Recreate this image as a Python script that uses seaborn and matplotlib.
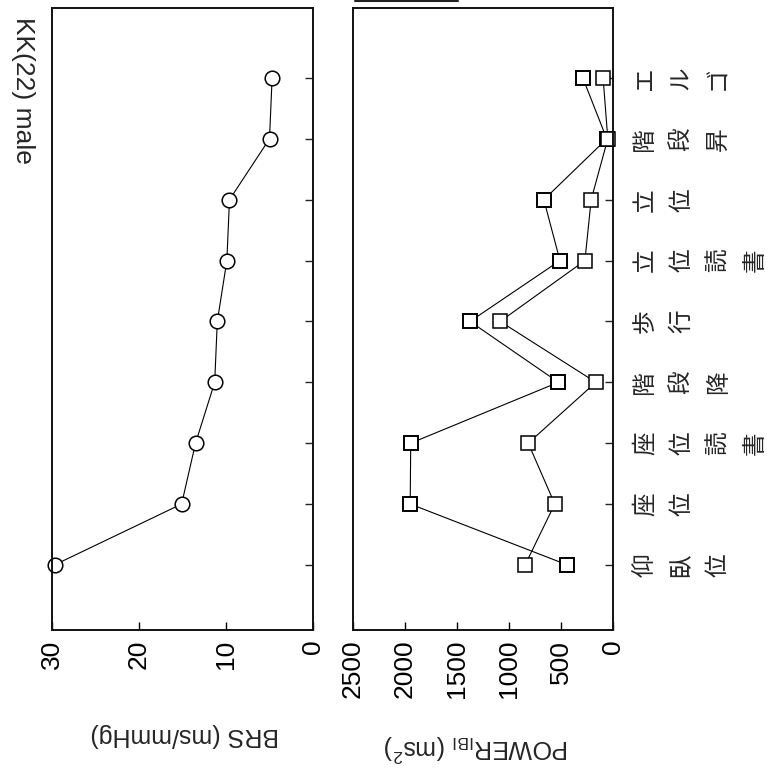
import matplotlib
matplotlib.use("Agg")
import matplotlib.pyplot as plt
import seaborn as sns
import pandas as pd
from matplotlib.lines import Line2D

# Conditions (postures / activities), bottom to top
categories = ["仰臥位", "座位", "座位読書", "階段降", "歩行",
              "立位読書", "立位", "階段昇", "エルゴ"]
# Baroreflex sensitivity (ms/mmHg)
brs = [29.7, 15.1, 13.5, 11.3, 11.0, 9.9, 9.6, 5.0, 4.7]
# IBI power (ms^2), two spectral components
power_1 = [440, 1950, 1945, 525, 1375, 510, 665, 60, 290]
power_2 = [845, 560, 815, 165, 1085, 270, 210, 50, 95]

brs_ticks = [30, 20, 10, 0]
power_ticks = [2500, 2000, 1500, 1000, 500, 0]

sns.set_style("white")
plt.rcParams["font.family"] = ["Liberation Sans", "Noto Sans CJK JP", "DejaVu Sans"]
plt.rcParams["mathtext.fontset"] = "custom"
plt.rcParams["mathtext.rm"] = "Liberation Sans"
plt.rcParams["mathtext.it"] = "Liberation Sans:italic"

pos = list(range(len(categories)))
df = pd.DataFrame({"cond": categories, "pos": pos, "brs": brs,
                   "p1": power_1, "p2": power_2})

W, H = 776, 773
fig = plt.figure(figsize=(W / 100, H / 100), dpi=100)
bottom = (H - 630) / H
height = 622 / H
ax1 = fig.add_axes([52 / W, bottom, 261 / W, height])
ax2 = fig.add_axes([353 / W, bottom, 260 / W, height])

line_kw = dict(sort=False, estimator=None, color="black", linewidth=0.8,
               markerfacecolor="white", markeredgecolor="black", clip_on=False)

sns.lineplot(data=df, x="brs", y="pos", ax=ax1, marker="o", markersize=10.5,
             markeredgewidth=1.1, **line_kw)
sns.lineplot(data=df, x="p1", y="pos", ax=ax2, marker="s", markersize=9.5,
             markeredgewidth=1.4, **line_kw)
sns.lineplot(data=df, x="p2", y="pos", ax=ax2, marker="s", markersize=9.5,
             markeredgewidth=1.1, **line_kw)

for ax, lim, ticks in [(ax1, (30, 0), brs_ticks), (ax2, (2500, 0), power_ticks)]:
    ax.set_xlim(*lim)
    ax.set_ylim(-1.07, 9.15)
    ax.set_xticks(ticks)
    ax.set_xticklabels([str(t) for t in ticks], rotation=90, fontsize=19)
    ax.set_yticks(pos)
    ax.yaxis.tick_right()
    ax.tick_params(axis="x", direction="in", length=6, width=1.0, pad=7,
                   bottom=True, colors="black")
    ax.tick_params(axis="y", direction="in", length=5.5, width=1.0,
                   right=True, left=False, labelright=False, labelleft=False)
    ax.set_ylabel("")
    for s in ax.spines.values():
        s.set_color("#111111")
        s.set_linewidth(1.4)

ax1.set_xlabel("BRS (ms/mmHg)", fontsize=18, rotation=180)
ax1.xaxis.set_label_coords(0.51, -0.169)
ax1.xaxis.label.set_va("center")
ax2.set_xlabel(r"POWER$_\mathrm{IBI}$ (ms$^2$)", fontsize=18, rotation=180)
ax2.xaxis.set_label_coords(0.477, -0.19)
ax2.xaxis.label.set_va("center")

# Vertical (tategaki) condition labels, one glyph at a time
for p, name in zip(pos, categories):
    for i, ch in enumerate(name):
        ax2.annotate(ch, xy=(1, p), xycoords=("axes fraction", "data"),
                     xytext=(23 + 26.4 * i, 0), textcoords="offset points",
                     rotation=90, ha="center", va="center", fontsize=17,
                     family=["Noto Sans CJK JP", "DejaVu Sans"],
                     annotation_clip=False)

fig.text(23 / W, 1 - 90 / H, "KK(22) male", rotation=-90, fontsize=19,
         ha="center", va="center")

fig.add_artist(Line2D([355 / W, 458 / W], [1 - 1 / H, 1 - 1 / H],
                      transform=fig.transFigure, color="#222222", linewidth=1.5))

fig.savefig("out.png", dpi=100)
